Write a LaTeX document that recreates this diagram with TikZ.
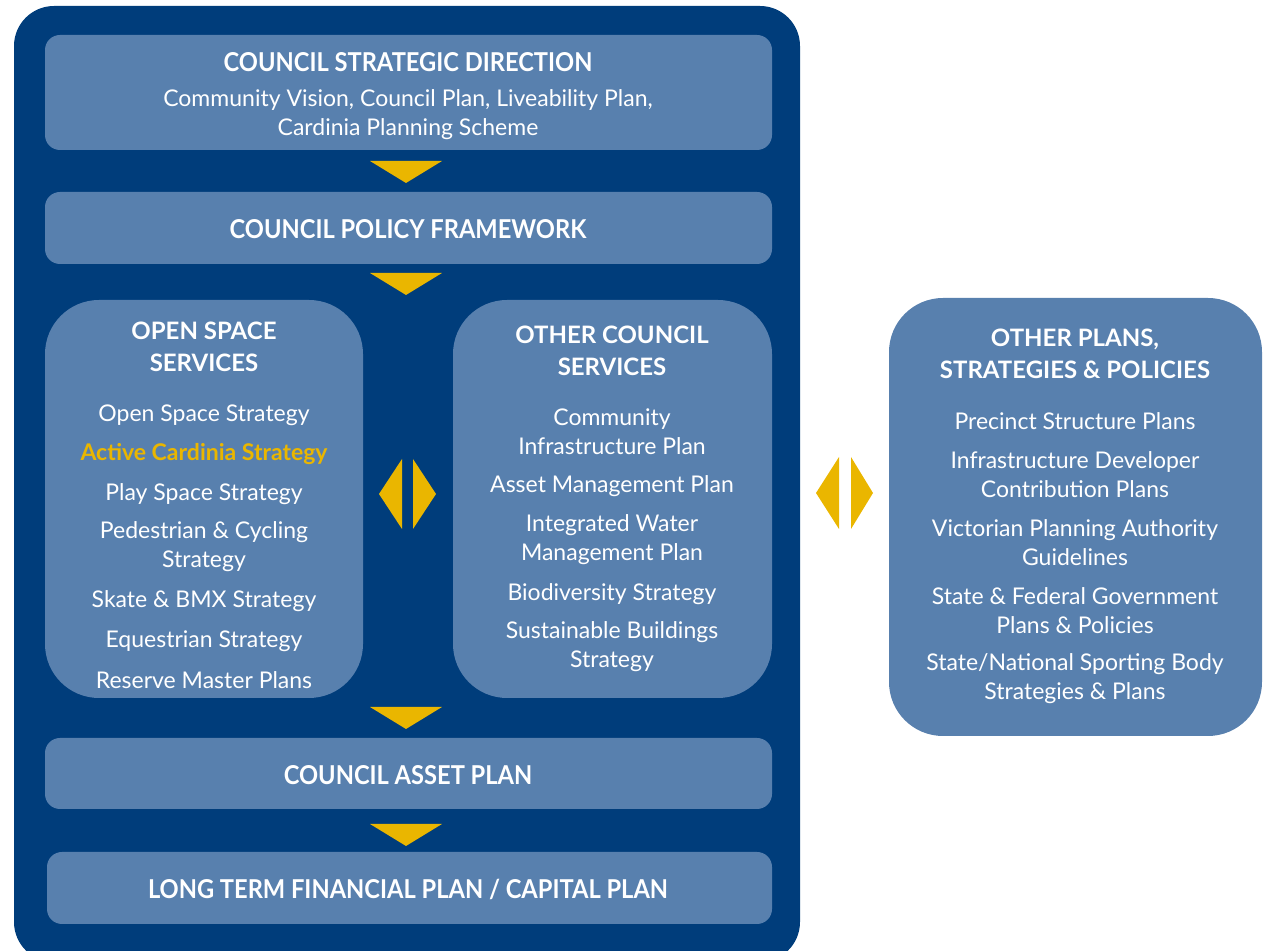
\documentclass[tikz,border=0pt]{standalone}
\usepackage{fontspec}
\setmainfont{Lato}
\newfontfamily\condfont[FakeStretch=0.91]{Lato}
\definecolor{navy}{HTML}{003D7B}
\definecolor{panelblue}{HTML}{5880AE}
\definecolor{gold}{HTML}{EAB600}

\tikzset{
  panel/.style={fill=panelblue, rounded corners=7.5pt},
  bigpanel/.style={fill=panelblue, rounded corners=27pt},
  bar/.style={text=white, font=\condfont\bfseries\fontsize{13}{16}\selectfont, align=center},
  head/.style={text=white, font=\bfseries\fontsize{12}{16}\selectfont, align=center},
  item/.style={text=white, font=\fontsize{11.5}{14.5}\selectfont, align=center},
}

\begin{document}
\begin{tikzpicture}[x=0.5pt,y=-0.5pt]
	\useasboundingbox (0,0) rectangle (1266,951);
	\begin{scope}
	\clip (0,0) rectangle (1266,951);
	\fill[navy, rounded corners=20pt] (14,6) rectangle (800,962);
	\end{scope}
	% main column
	\fill[panel] (45,35) rectangle (772,150);
	\node[bar] (dir) at (408,62) {COUNCIL STRATEGIC DIRECTION};
	\node[item] (dirtext) at (408,115) {Community Vision, Council Plan, Liveability Plan,\\Cardinia Planning Scheme};
	\fill[panel] (45,192) rectangle (772,264);
	\node[bar] (policy) at (408,229) {COUNCIL POLICY FRAMEWORK};
	\fill[panel] (45,738) rectangle (772,809);
	\node[bar] (asset) at (408,775) {COUNCIL ASSET PLAN};
	\fill[panel] (47,852) rectangle (772,924);
	\node[bar] (ltfp) at (408,889) {LONG TERM FINANCIAL PLAN / CAPITAL PLAN};
	\foreach \y in {161,273,707,824}
		\fill[gold] (370,\y) -- (442,\y) -- (406,\y+22) -- cycle;
	% services
	\fill[bigpanel] (45,300) rectangle (363,698);
	\node[head] (open) at (204,347) {OPEN SPACE\\SERVICES};
	\foreach \t/\y [count=\i] in {Open Space Strategy/415, {\color{gold}\bfseries Active Cardinia Strategy}/454, Play Space Strategy/494, {Pedestrian \& Cycling\\Strategy}/547, Skate \& BMX Strategy/601, Equestrian Strategy/641, Reserve Master Plans/680}
		\node[item] (os\i) at (204,\y) {\t};
	\fill[bigpanel] (453,300) rectangle (772,698);
	\node[head] (other) at (612,351) {OTHER COUNCIL\\SERVICES};
	\foreach \t/\y [count=\i] in {{Community\\Infrastructure Plan}/432, Asset Management Plan/486, {Integrated Water\\Management Plan}/540, Biodiversity Strategy/594, {Sustainable Buildings\\Strategy}/647}
		\node[item] (ocs\i) at (612,\y) {\t};
	\fill[gold] (402,459) -- (379,494) -- (402,529) -- cycle;
	\fill[gold] (413,459) -- (436,494) -- (413,529) -- cycle;
	% outside plans
	\fill[bigpanel] (889,298) rectangle (1262,736);
	\node[head] (plans) at (1075,354) {OTHER PLANS,\\STRATEGIES \& POLICIES};
	\foreach \t/\y [count=\i] in {Precinct Structure Plans/421, {Infrastructure Developer\\Contribution Plans}/475, {Victorian Planning Authority\\Guidelines}/543, {State \& Federal Government\\Plans \& Policies}/611, {State/National Sporting Body\\Strategies \& Plans}/679}
		\node[item] (op\i) at (1075,\y) {\t};
	\fill[gold] (839,457) -- (816,493) -- (839,529) -- cycle;
	\fill[gold] (851,457) -- (873,493) -- (851,529) -- cycle;
\end{tikzpicture}
\end{document}
